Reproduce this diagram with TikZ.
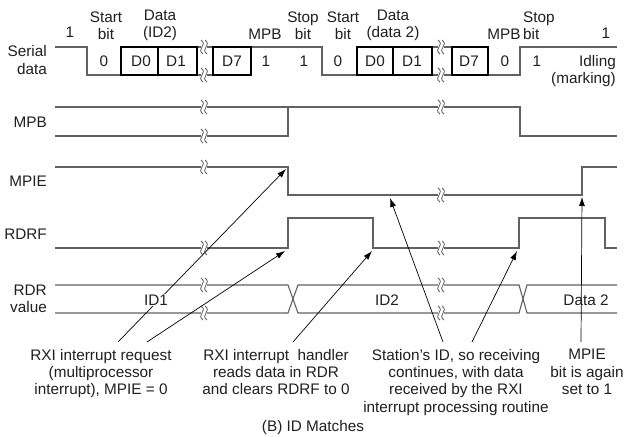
\documentclass[tikz,border=0pt]{standalone}
\usepackage{fontspec}
\setmainfont{Liberation Sans}
\usetikzlibrary{arrows.meta}
\begin{document}
\begin{tikzpicture}[x=1pt,y=-1pt,
  wave/.style={draw=black!62,line width=1.1pt},
  boxl/.style={draw=black,line width=1.3pt},
  lbl/.style={font=\fontsize{15.3}{17.3}\selectfont,text=black!88,inner sep=0pt},
  arr/.style={draw=black,line width=0.7pt,-{Latex[length=9pt,width=6pt]}},
  brkm/.style={draw=black!62,line width=0.8pt},
  brk/.pic={\fill[white] (-3,-3) rectangle (3,3);
    \draw[brkm] (-3,-7) .. controls (0,-5) and (0,-2) .. (-2,0) .. controls (-4,2) and (-4,5) .. (-1,7);
    \draw[brkm] (1,-7) .. controls (4,-5) and (4,-2) .. (2,0) .. controls (0,2) and (0,5) .. (3,7);}]
\useasboundingbox[fill=white] (0,0) rectangle (633,437);

% ---------- Serial data ----------
\draw[wave] (55,47) -- (87,47) -- (87,75) -- (121,75);
\draw[wave] (197,47) -- (213,47) (197,75) -- (213,75);
\draw[wave] (251,47) -- (322,47) -- (322,75) -- (357,75);
\draw[wave] (432,47) -- (452,47) (432,75) -- (452,75);
\draw[wave] (488,75) -- (520,75) -- (520,47) -- (617,47);
\draw[boxl] (121,47) rectangle (158,75);
\draw[boxl] (158,47) rectangle (197,75);
\draw[boxl] (213,47) rectangle (251,75);
\draw[boxl] (357,47) rectangle (393,75);
\draw[boxl] (393,47) rectangle (432,75);
\draw[boxl] (452,47) rectangle (488,75);
\pic at (204,47) {brk}; \pic at (204,75) {brk};
\pic at (441,47) {brk}; \pic at (441,75) {brk};

% ---------- MPB ----------
\draw[wave] (55,107) -- (520,107) -- (520,136) -- (617,136);
\draw[wave] (55,136) -- (288,136) -- (288,107);
\pic at (204,107) {brk}; \pic at (204,136) {brk}; \pic at (441,107) {brk};

% ---------- MPIE ----------
\draw[wave] (55,167) -- (288,167) -- (288,195) -- (582,195) -- (582,167) -- (617,167);
\pic at (204,167) {brk}; \pic at (441,195) {brk};

% ---------- RDRF ----------
\draw[wave] (55,248) -- (288,248) -- (288,218) -- (373,218) -- (373,248)
  -- (519,248) -- (519,218) -- (605,218) -- (605,248) -- (617,248);
\pic at (204,248) {brk}; \pic at (441,248) {brk};

% ---------- RDR value ----------
\draw[wave] (55,285) -- (288,285) -- (298,313) -- (519,313) -- (527,285) -- (617,285);
\draw[wave] (55,313) -- (288,313) -- (298,285) -- (519,285) -- (527,313) -- (617,313);
\pic at (204,285) {brk}; \pic at (204,313) {brk};
\pic at (441,285) {brk}; \pic at (441,313) {brk};

% ---------- left labels ----------
\node[lbl,anchor=east,align=right] (lser) at (47,60) {Serial\\data};
\node[lbl,anchor=east] (lmpb) at (47,122) {MPB};
\node[lbl,anchor=east] (lmpie) at (47,181) {MPIE};
\node[lbl,anchor=east] (lrdrf) at (47,234) {RDRF};
\node[lbl,anchor=east,align=right] (lrdr) at (47,298.5) {RDR\\value};

% ---------- top labels ----------
\node[lbl] (t1) at (70,32) {1};
\node[lbl,align=center] (tst1) at (106,25.5) {Start\\bit};
\node[lbl,align=center] (tda1) at (160,25.5) {Data\\(ID2)};
\node[lbl] (tmp1) at (265,34) {MPB};
\node[lbl,align=center] (tsp1) at (303,25.5) {Stop\\bit};
\node[lbl,align=center] (tst2) at (343,25.5) {Start\\bit};
\node[lbl,align=center] (tda2) at (393,25.5) {Data\\(data 2)};
\node[lbl] (tmp2) at (504,34) {MPB};
\node[lbl,align=left,anchor=west] (tsp2) at (523,25.5) {Stop\\bit};
\node[lbl] (t2) at (606,33) {1};
\node[lbl,align=right,anchor=east] (tidle) at (616,71) {Idling\\(marking)};

% ---------- bit values ----------
\node[lbl] (b1) at (104,61) {0};
\node[lbl] (b2) at (141,61) {D0};
\node[lbl] (b3) at (176,61) {D1};
\node[lbl] (b4) at (232,61) {D7};
\node[lbl] (b5) at (266,61) {1};
\node[lbl] (b6) at (304,61) {1};
\node[lbl] (b7) at (338,61) {0};
\node[lbl] (b8) at (375,61) {D0};
\node[lbl] (b9) at (412,61) {D1};
\node[lbl] (b10) at (469,61) {D7};
\node[lbl] (b11) at (505,61) {0};
\node[lbl] (b12) at (537,61) {1};

% ---------- bottom texts ----------
\node[lbl,align=center,anchor=north] (req) at (101,349) {RXI interrupt request\\(multiprocessor\\interrupt), MPIE = 0};
\node[lbl,align=center,anchor=north] (hnd) at (276,349) {RXI interrupt\ \ handler\\reads data in RDR\\and clears RDRF to 0};
\node[lbl,align=center,anchor=north] (sta) at (456,349) {Station's ID, so receiving\\continues, with data\\received by the RXI\\interrupt processing routine};
\node[lbl,align=center,anchor=north] (mpi) at (587,349) {MPIE\\bit is again\\set to 1};
\node[lbl] (cap) at (313,428) {(B) ID Matches};

% ---------- arrow targets ----------
\coordinate (tA) at (286,169);
\coordinate (tB) at (285,251);
\coordinate (tC) at (372,251);
\coordinate (tD) at (390,198);
\coordinate (tE) at (517,251);
\coordinate (tF) at (582,197);

\draw[arr] ([shift={(17,-7)}]req.north) -- (tA);
\draw[arr] ([shift={(46,-7)}]req.north) -- (tB);
\draw[arr] ([shift={(17,-7)}]hnd.north) -- (tC);
\draw[arr] ([shift={(-13,-7)}]sta.north) -- (tD);
\draw[arr] ([shift={(16,-7)}]sta.north) -- (tE);
\draw[arr] ([shift={(-6,-7)}]mpi.north) -- (tF);

% ---------- RDR value texts ----------
\node[lbl,fill=white,inner sep=1pt] (v1) at (156,300) {ID1};
\node[lbl] (v2) at (387,300) {ID2};
\node[lbl] (v3) at (586,300) {Data 2};
\end{tikzpicture}
\end{document}
